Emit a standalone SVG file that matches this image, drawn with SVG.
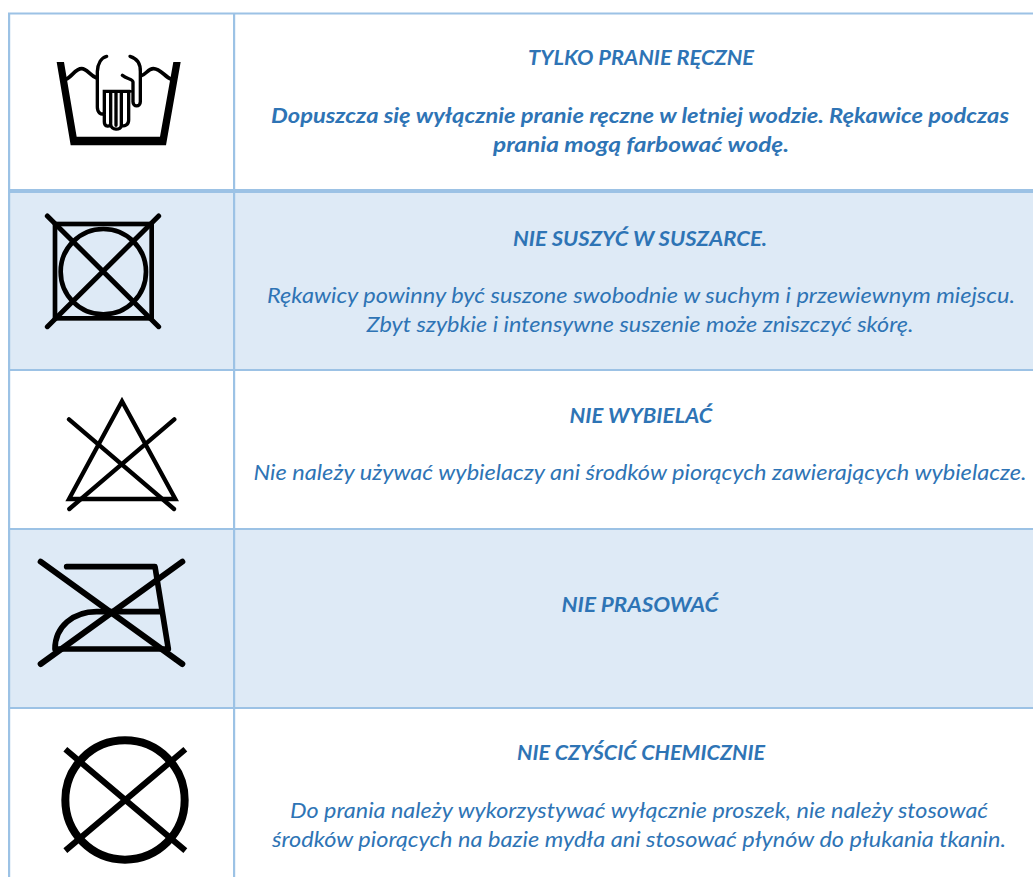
<svg xmlns="http://www.w3.org/2000/svg" width="1033" height="877" viewBox="0 0 1033 877">
<style>
text{font-family:Lato,"Open Sans","Noto Sans",sans-serif;font-style:italic;font-size:21px;fill:#2e74b5}
.b{font-weight:700}
.grid{fill:#9cc2e5}
.band{fill:#deeaf6}
.k{fill:none;stroke:#000}
</style>
<rect width="1033" height="877" fill="#fff"/>
<g id="bands"><rect class="band" x="10" y="192" width="1023" height="178"/><rect class="band" x="10" y="530" width="1023" height="178"/></g>
<g id="grid">
<rect class="grid" x="8" y="12.5" width="1025" height="2"/>
<rect class="grid" x="8" y="189" width="1025" height="4"/>
<rect class="grid" x="8" y="369" width="1025" height="2"/>
<rect class="grid" x="8" y="528" width="1025" height="2"/>
<rect class="grid" x="8" y="707" width="1025" height="2"/>
<rect class="grid" x="8" y="13" width="2.2" height="864"/>
<rect class="grid" x="233" y="13" width="2.2" height="864"/>
</g>
<g id="row1">
<g transform="scale(.33333)">
<path d="M170,186L192,186L230,410L480,410L520,186L542,186L498,436L212,436Z" fill="#000"/>
<path class="k" stroke-width="11" d="M198,238C216,230 226,206 245,206C262,206 268,226 290,234M514,238C494,230 482,206 460,206C444,206 438,224 422,228"/>
<path class="k" stroke-width="10" stroke-linecap="round" d="M320,169C304,173 293,190 292,215L292,322C292,338 304,346 313,340L313,274L390,274M313,340L313,366C313,382 332,382 332,370L332,274M332,372C332,392 364,392 364,376L364,274M348,274L348,376M364,376C372,380 386,376 386,360L386,274M390,169C410,175 422,190 421,215L421,305C421,322 399,322 399,305L399,246C399,236 380,238 367,226"/>
</g>
<text class="b" x="641" y="65" text-anchor="middle" textLength="226" lengthAdjust="spacingAndGlyphs">TYLKO PRANIE RĘCZNE</text>
<text class="b" x="640" y="123" text-anchor="middle" textLength="738" lengthAdjust="spacingAndGlyphs">Dopuszcza się wyłącznie pranie ręczne w letniej wodzie. Rękawice podczas</text>
<text class="b" x="641" y="152" text-anchor="middle" textLength="296" lengthAdjust="spacingAndGlyphs">prania mogą farbować wodę.</text>
</g>
<g id="row2">
<g transform="translate(0,180) scale(.33333)">
<rect class="k" x="165" y="132" width="290" height="283" stroke-width="14"/>
<circle class="k" cx="310" cy="275" r="128" stroke-width="14"/>
<path class="k" stroke-width="15" stroke-linecap="round" d="M142,108L476,440M476,108L142,440"/>
</g>
<text class="b" x="640" y="246" text-anchor="middle" textLength="254" lengthAdjust="spacingAndGlyphs">NIE SUSZYĆ W SUSZARCE.</text>
<text x="641" y="303" text-anchor="middle" textLength="748" lengthAdjust="spacingAndGlyphs">Rękawicy powinny być suszone swobodnie w suchym i przewiewnym miejscu.</text>
<text x="640" y="332" text-anchor="middle" textLength="547" lengthAdjust="spacingAndGlyphs">Zbyt szybkie i intensywne suszenie może zniszczyć skórę.</text>
</g>
<g id="row3">
<g transform="translate(0,180) scale(.33333)">
<path class="k" stroke-width="13" d="M366,664L207,957L526,957Z"/>
<path class="k" stroke-width="13" stroke-linecap="round" d="M207,718L522,987M523,718L208,987"/>
</g>
<text class="b" x="641" y="423" text-anchor="middle" textLength="143" lengthAdjust="spacingAndGlyphs">NIE WYBIELAĆ</text>
<text x="640" y="480" text-anchor="middle" textLength="773" lengthAdjust="spacingAndGlyphs">Nie należy używać wybielaczy ani środków piorących zawierających wybielacze.</text>
</g>
<g id="row4">
<g transform="translate(0,530) scale(.33333)">
<path class="k" stroke-width="17" stroke-linecap="round" stroke-linejoin="round" d="M200,110L465,110L505,357L165,357C165,290 220,245 290,245L480,245"/>
<path class="k" stroke-width="18" stroke-linecap="round" d="M122,95L547,402M547,95L122,402"/>
</g>
<text class="b" x="640" y="612" text-anchor="middle" textLength="157" lengthAdjust="spacingAndGlyphs">NIE PRASOWAĆ</text>
</g>
<g id="row5">
<g transform="translate(0,530) scale(.33333)">
<circle class="k" cx="375" cy="810" r="179" stroke-width="24"/>
<path class="k" stroke-width="18" d="M196,658L556,962M556,658L196,962"/>
</g>
<text class="b" x="641" y="760" text-anchor="middle" textLength="248" lengthAdjust="spacingAndGlyphs">NIE CZYŚCIĆ CHEMICZNIE</text>
<text x="639" y="818" text-anchor="middle" textLength="698" lengthAdjust="spacingAndGlyphs">Do prania należy wykorzystywać wyłącznie proszek, nie należy stosować</text>
<text x="639" y="847" text-anchor="middle" textLength="734" lengthAdjust="spacingAndGlyphs">środków piorących na bazie mydła ani stosować płynów do płukania tkanin.</text>
</g>
</svg>
